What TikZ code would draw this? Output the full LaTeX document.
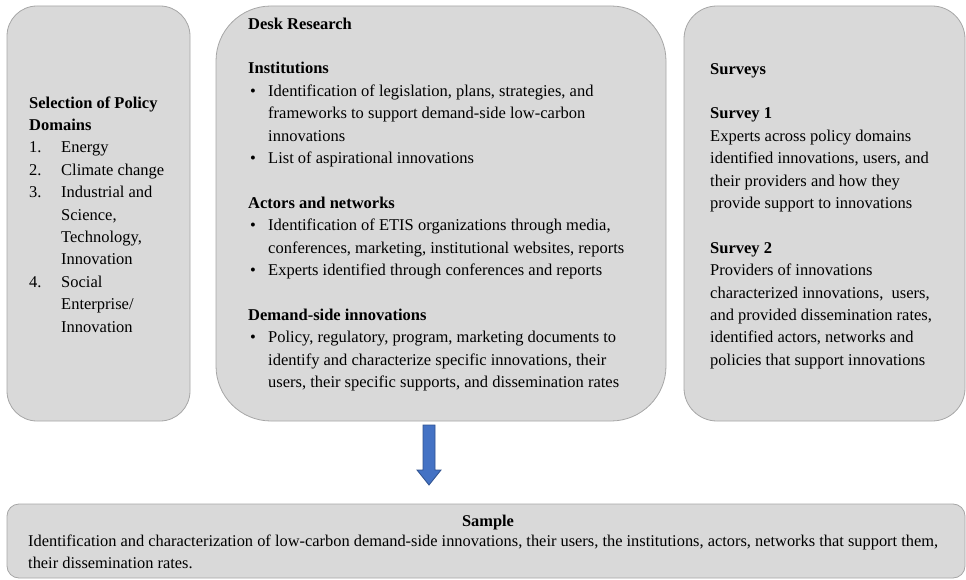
\documentclass[tikz,border=0pt]{standalone}
\usepackage{fontspec}
\setmainfont{Liberation Serif}
\definecolor{boxfill}{HTML}{D9D9D9}
\definecolor{boxline}{HTML}{A6A6A6}
\definecolor{arrfill}{HTML}{4472C4}
\definecolor{arrline}{HTML}{2F528F}
\tikzset{
  panel/.style={draw=boxline, fill=boxfill, line width=0.8pt, inner sep=0pt},
  txt/.style={anchor=north west, inner sep=0pt, align=left, font=\fontsize{16.5}{22.4}\selectfont},
  blockarrow/.style={draw=arrline, fill=arrfill, line width=0.8pt, line join=miter}
}
\newcommand{\bul}{\makebox[20pt][l]{\hspace{2pt}\textbullet}}
\newcommand{\ind}{\hspace*{20pt}}
\newcommand{\num}[1]{\makebox[32pt][l]{#1}}
\newcommand{\nind}{\hspace*{32pt}}
\begin{document}
\begin{tikzpicture}[x=1pt,y=-1pt]
\useasboundingbox (0,0) rectangle (966,580);
% boxes
\node[panel, rounded corners=30pt, minimum width=183pt, minimum height=415pt] (left) at (98.5,213.5) {};
\node[panel, rounded corners=55pt, minimum width=450pt, minimum height=415pt] (mid) at (441,213.5) {};
\node[panel, rounded corners=33pt, minimum width=281pt, minimum height=415pt] (right) at (824.5,213.5) {};
\node[panel, rounded corners=12pt, minimum width=958pt, minimum height=74pt] (bottom) at (486,541) {};
% arrow
\coordinate (arrowtop) at (429,425);
\coordinate (arrowtip) at (429,485);
\draw[blockarrow] (arrowtop) ++(-6,0) -- ++(12,0) -- ++(0,45) -- ++(6,0) -- (arrowtip) -- ++(-12,-15) -- ++(6,0) -- cycle;
% left text
\node[txt] (lefttext) at (29,92.25) {\strut\textbf{Selection of Policy}\\
\textbf{Domains}\\
\num{1.}Energy\\
\num{2.}Climate change\\
\num{3.}Industrial and\\
\nind Science,\\
\nind Technology,\\
\nind Innovation\\
\num{4.}Social\\
\nind Enterprise/\\
\nind Innovation};
% middle text
\node[txt] (midtext) at (248,13.25) {\strut\textbf{Desk Research}\\
\strut\\
\textbf{Institutions}\\
\bul Identification of legislation, plans, strategies, and\\
\ind frameworks to support demand-side low-carbon\\
\ind innovations\\
\bul List of aspirational innovations\\
\strut\\
\textbf{Actors and networks}\\
\bul Identification of ETIS organizations through media,\\
\ind conferences, marketing, institutional websites, reports\\
\bul Experts identified through conferences and reports\\
\strut\\
\textbf{Demand-side innovations}\\
\bul Policy, regulatory, program, marketing documents to\\
\ind identify and characterize specific innovations, their\\
\ind users, their specific supports, and dissemination rates};
% right text
\node[txt] (righttext) at (710,58.25) {\strut\textbf{Surveys}\\
\strut\\
\textbf{Survey 1}\\
Experts across policy domains\\
identified innovations, users, and\\
their providers and how they\\
provide support to innovations\\
\strut\\
\textbf{Survey 2}\\
Providers of innovations\\
characterized innovations,\ \ users,\\
and provided dissemination rates,\\
identified actors, networks and\\
policies that support innovations};
% bottom text
\node[anchor=base, inner sep=0pt, font=\fontsize{16.4}{21.5}\selectfont] (sampletitle) at (488,526) {\textbf{Sample}};
\node[txt, font=\fontsize{16.4}{21.5}\selectfont] (sampletext) at (28,531.25) {\strut Identification and characterization of low-carbon demand-side innovations, their users, the institutions, actors, networks that support them,\\
their dissemination rates.};
\end{tikzpicture}
\end{document}
